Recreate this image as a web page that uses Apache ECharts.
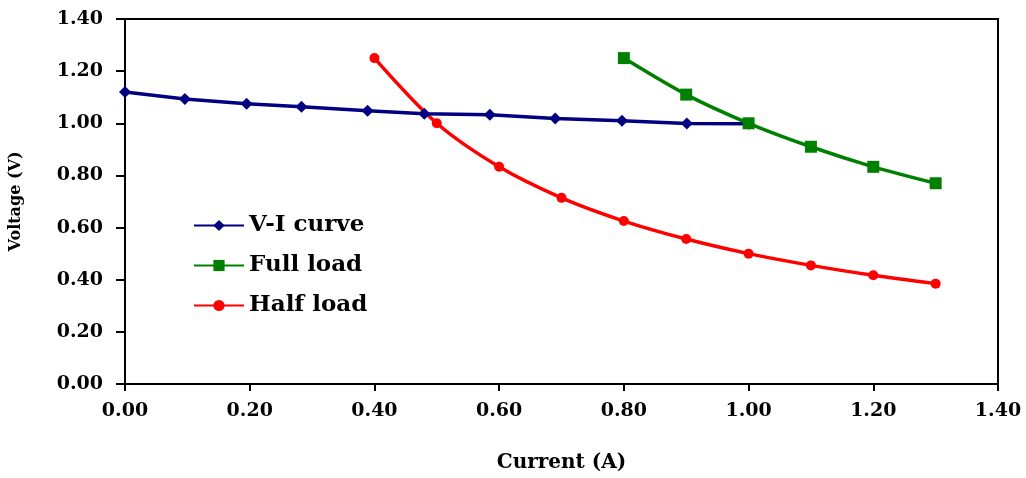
<!DOCTYPE html>
<html><head><meta charset="utf-8">
<script src="https://cdn.jsdelivr.net/npm/echarts@6/dist/echarts.min.js"></script>
<style>html,body{margin:0;padding:0;background:#fff}#c{width:1026px;height:478px}</style>
</head><body><div id="c"></div>
<script>
const viCurrent = [0.00, 0.096, 0.195, 0.283, 0.389, 0.480, 0.585, 0.690, 0.797, 0.901, 1.00];
const viVoltage = [1.12, 1.093, 1.075, 1.063, 1.048, 1.037, 1.033, 1.018, 1.010, 0.999, 0.998];
const fullCurrent = [0.8, 0.9, 1.0, 1.1, 1.2, 1.3];
const fullVoltage = [1.25, 1.11, 1.00, 0.91, 0.833, 0.77];
const halfCurrent = [0.4, 0.5, 0.6, 0.7, 0.8, 0.9, 1.0, 1.1, 1.2, 1.3];
const halfVoltage = [1.25, 1.00, 0.833, 0.714, 0.625, 0.556, 0.50, 0.455, 0.417, 0.385];
const seriesNames = ['V-I curve', 'Full load', 'Half load'];
const xTitle = 'Current (A)';
const yTitle = 'Voltage (V)';

const pairs = (xs, ys) => xs.map((x, i) => [x, ys[i]]);
const font = 'DejaVu Serif';
const chart = echarts.init(document.getElementById('c'), null, {renderer: 'canvas'});
chart.setOption({
  animation: false,
  backgroundColor: '#fff',
  grid: {left: 125, right: 28, top: 19, bottom: 89, show: true, borderColor: '#000', borderWidth: 2},
  legend: {
    orient: 'vertical', left: 188, top: 209, itemWidth: 50, itemHeight: 14, itemGap: 17,
    textStyle: {fontFamily: font, fontSize: 23, fontWeight: 'bold', color: '#000', lineHeight: 23, padding: [0, 0, 0, 0]},
    data: seriesNames
  },
  xAxis: {
    type: 'value', min: 0, max: 1.4, interval: 0.2,
    name: xTitle, nameLocation: 'middle', nameGap: 69,
    nameTextStyle: {fontFamily: font, fontSize: 20, fontWeight: 'bold', color: '#000'},
    axisLine: {show: true, lineStyle: {color: '#000', width: 2}},
    axisTick: {show: true, length: 7, lineStyle: {color: '#000', width: 2}},
    splitLine: {show: false},
    axisLabel: {margin: 18, fontFamily: font, fontSize: 19, fontWeight: 'bold', color: '#000', formatter: v => v.toFixed(2)}
  },
  yAxis: {
    type: 'value', min: 0, max: 1.4, interval: 0.2,
    name: yTitle, nameLocation: 'middle', nameGap: 101, nameRotate: 90,
    nameTextStyle: {fontFamily: font, fontSize: 16, fontWeight: 'bold', color: '#000'},
    axisLine: {show: true, lineStyle: {color: '#000', width: 2}},
    axisTick: {show: true, length: 9, lineStyle: {color: '#000', width: 2}},
    splitLine: {show: false},
    axisLabel: {margin: 22, fontFamily: font, fontSize: 19, fontWeight: 'bold', color: '#000', formatter: v => v.toFixed(2)}
  },
  series: [
    {name: seriesNames[0], type: 'line', data: pairs(viCurrent, viVoltage), color: '#000080',
     symbol: 'diamond', symbolSize: 12, lineStyle: {width: 3.5}, z: 3},
    {name: seriesNames[1], type: 'line', data: pairs(fullCurrent, fullVoltage), color: '#008000', smooth: 0.3,
     symbol: 'rect', symbolSize: 12, lineStyle: {width: 3.5}, z: 4},
    {name: seriesNames[2], type: 'line', data: pairs(halfCurrent, halfVoltage), color: '#ff0000', smooth: 0.3,
     symbol: 'circle', symbolSize: 10, lineStyle: {width: 3.5}, z: 2}
  ]
});
</script></body></html>
